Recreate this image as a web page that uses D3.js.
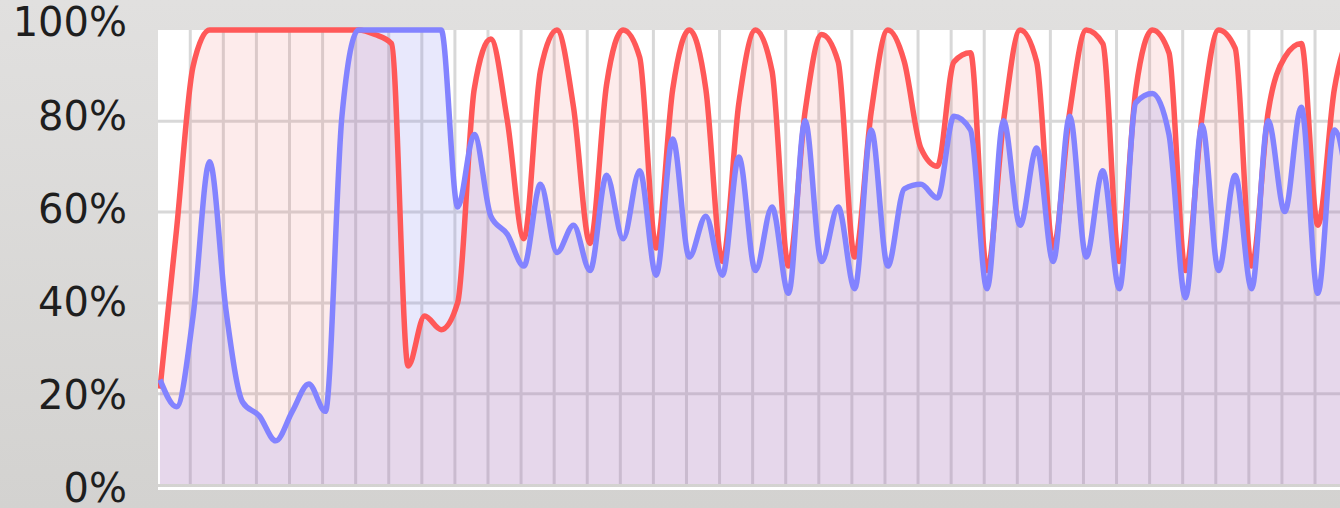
<!DOCTYPE html>
<html>
<head>
<meta charset="utf-8">
<script src="https://cdn.jsdelivr.net/npm/d3@7"></script>
<style>
  html, body { margin: 0; padding: 0; background: #dad9d7; }
  svg { display: block; }
</style>
</head>
<body>
<div id="chart"></div>
<script>
// history samples, one every half grid cell (percent)
const samples = d3.range(73);
const redSeries = [21, 56, 92, 100, 100, 100, 100, 100, 100, 100, 100, 100, 100, 99, 97, 26, 37, 34, 40, 87,
  98, 80, 54, 91, 100, 83, 53, 88, 100, 94, 52, 87, 100, 87, 49, 84, 100, 91, 48, 82,
  99, 93, 50, 82, 100, 93, 74, 70, 93, 95, 47, 80, 100, 93, 52, 82, 100, 97, 49, 87,
  100, 95, 47, 81, 100, 96, 48, 82, 94, 97, 57, 87, 100];
const blueSeries = [23, 17, 37, 71, 38, 18, 15, 9.5, 16, 22, 16, 81, 100, 100, 100, 100, 100, 100, 61, 77,
  59, 55, 48, 66, 51, 57, 47, 68, 54, 69, 46, 76, 50, 59, 46, 72, 47, 61, 42, 80,
  49, 61, 43, 78, 48, 65, 66, 63, 81, 78, 43, 80, 57, 74, 49, 81, 50, 69, 43, 84,
  86, 77, 41, 79, 47, 68, 43, 80, 60, 83, 42, 78, 60];
const yTicks = [0, 20, 40, 60, 80, 100];
// vertical grid sits between samples, every two samples
const gridTicks = d3.range(1.8, 71, 2);

const W = 1340, H = 508;
const plot = { left: 158, right: 1340, top: 30, bottom: 484 };

const svg = d3.select("#chart").append("svg")
  .attr("width", W).attr("height", H)
  .style("font-family", "'DejaVu Sans', sans-serif");

const grad = svg.append("defs").append("linearGradient")
  .attr("id", "bg").attr("x1", 0).attr("y1", 0).attr("x2", 0).attr("y2", 1);
grad.append("stop").attr("offset", "0%").attr("stop-color", "#e1e0df");
grad.append("stop").attr("offset", "100%").attr("stop-color", "#d3d2d0");
svg.append("rect").attr("width", W).attr("height", H).attr("fill", "url(#bg)");

const x = d3.scaleLinear().domain([-0.12, 71.34]).range([plot.left, plot.right]);
const y = d3.scaleLinear().domain([0, 100]).range([plot.bottom, plot.top]);
// labels are spread a touch wider than the grid
const yLab = d3.scaleLinear().domain([0, 100]).range([487, 21.5]);

// plot background + white base line
svg.append("rect")
  .attr("x", plot.left).attr("y", plot.top)
  .attr("width", plot.right - plot.left).attr("height", plot.bottom - plot.top)
  .attr("fill", "#ffffff");
svg.append("rect")
  .attr("x", plot.left).attr("y", plot.bottom + 3)
  .attr("width", plot.right - plot.left).attr("height", 3)
  .attr("fill", "#ffffff");

// grid (under the fills so it picks up their tint)
svg.append("g")
  .attr("transform", `translate(0,${plot.bottom})`)
  .call(d3.axisBottom(x).tickValues(gridTicks).tickSize(-(plot.bottom - plot.top)).tickFormat(""))
  .call(g => g.select(".domain").remove())
  .call(g => g.selectAll(".tick line").attr("stroke", "#d8d8d8").attr("stroke-width", 3));

svg.append("g")
  .attr("transform", `translate(${plot.left},0)`)
  .call(d3.axisLeft(y).tickValues([20, 40, 60, 80]).tickSize(-(plot.right - plot.left)).tickFormat(""))
  .call(g => g.select(".domain").remove())
  .call(g => g.selectAll(".tick line").attr("stroke", "#d8d8d8").attr("stroke-width", 3));

svg.append("clipPath").attr("id", "plotclip").append("rect")
  .attr("x", plot.left).attr("y", 0)
  .attr("width", plot.right - plot.left).attr("height", plot.bottom);

const layer = svg.append("g").attr("clip-path", "url(#plotclip)");

// smooth but never overshooting 100%
const curve = d3.curveMonotoneX;
const area = vals => d3.area()
  .curve(curve)
  .x((d, i) => x(samples[i]))
  .y0(y(0))
  .y1(d => y(d))(vals);
const line = vals => d3.line()
  .curve(curve)
  .x((d, i) => x(samples[i]))
  .y(d => y(d))(vals);

layer.append("path").attr("d", area(redSeries)).attr("fill", "rgba(240,110,110,0.14)");
layer.append("path").attr("d", area(blueSeries)).attr("fill", "rgba(128,128,240,0.18)");

layer.append("path").attr("d", line(redSeries))
  .attr("fill", "none").attr("stroke", "#ff5858")
  .attr("stroke-width", 5.5).attr("stroke-linejoin", "round");
layer.append("path").attr("d", line(blueSeries))
  .attr("fill", "none").attr("stroke", "#8383ff")
  .attr("stroke-width", 5.5).attr("stroke-linejoin", "round");

// y labels
svg.append("g")
  .attr("transform", "translate(130,0)")
  .call(d3.axisLeft(yLab).tickValues(yTicks).tickSize(0).tickPadding(3).tickFormat(d => d + "%"))
  .call(g => g.select(".domain").remove())
  .call(g => g.selectAll("text")
    .attr("dy", "0.36em")
    .attr("font-size", 40)
    .attr("font-family", "'DejaVu Sans', sans-serif")
    .attr("fill", "#1e1e1e"));
</script>
</body>
</html>
